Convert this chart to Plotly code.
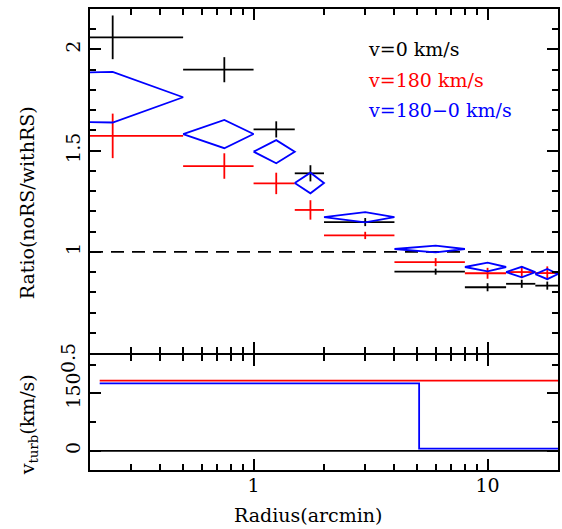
import math
import plotly.graph_objects as go

# ---------------- data ----------------
r_center = [0.25, 0.75, 1.25, 1.75, 3.0, 6.0, 10.0, 14.0, 18.0]
r_lo = [0.0, 0.5, 1.0, 1.5, 2.0, 4.0, 8.0, 12.0, 16.0]
r_hi = [0.5, 1.0, 1.5, 2.0, 4.0, 8.0, 12.0, 16.0, 20.0]

ratio_v0 = [2.06, 1.90, 1.605, 1.388, 1.147, 0.902, 0.825, 0.842, 0.833]
err_v0 = [0.108, 0.062, 0.04, 0.04, 0.02, 0.015, 0.02, 0.02, 0.02]

ratio_v180 = [1.573, 1.424, 1.338, 1.207, 1.081, 0.949, 0.894, 0.900, 0.895]
err_v180 = [0.11, 0.063, 0.053, 0.048, 0.018, 0.02, 0.027, 0.03, 0.033]

ratio_diff = [1.764, 1.582, 1.495, 1.340, 1.171, 1.014, 0.925, 0.900, 0.890]
err_diff = [0.125, 0.07, 0.057, 0.051, 0.025, 0.017, 0.022, 0.026, 0.025]

model_r = [0.22, 5.1, 20.0]
vturb_v0 = [0, 0, 0]
vturb_v180 = [183, 183, 183]
vturb_v180_0 = [176, 6, 6]

legend_labels = ["v=0 km/s", "v=180 km/s", "v=180\u22120 km/s"]
x_major = [1, 10]
x_minor = [0.2, 0.3, 0.4, 0.5, 0.6, 0.7, 0.8, 0.9, 2, 3, 4, 5, 6, 7, 8, 9, 20]
y_major = [0.5, 1, 1.5, 2]
y_minor = [0.6, 0.7, 0.8, 0.9, 1.1, 1.2, 1.3, 1.4, 1.6, 1.7, 1.8, 1.9, 2.1]
v_major = [0, 150]
v_minor = [75, 225]

FONT = "DejaVu Serif"
FS = 19
LOG_ZERO = 1e-6  # stand-in for r=0 on a log axis


def crosses(xc, lo, hi, y, e):
    xs, ys = [], []
    for c, l, h, v, d in zip(xc, lo, hi, y, e):
        xs += [max(l, LOG_ZERO), h, None, c, c, None]
        ys += [v, v, None, v - d, v + d, None]
    return xs, ys


def diamonds(xc, lo, hi, y, e):
    xs, ys = [], []
    for c, l, h, v, d in zip(xc, lo, hi, y, e):
        l = max(l, LOG_ZERO)
        xs += [l, c, h, c, l, None]
        ys += [v, v + d, v, v - d, v, None]
    return xs, ys


fig = go.Figure()

x, y = crosses(r_center, r_lo, r_hi, ratio_v0, err_v0)
fig.add_trace(go.Scatter(x=x, y=y, mode="lines", line=dict(color="black", width=1.8),
                         xaxis="x", yaxis="y", showlegend=False))
x, y = crosses(r_center, r_lo, r_hi, ratio_v180, err_v180)
fig.add_trace(go.Scatter(x=x, y=y, mode="lines", line=dict(color="red", width=1.8),
                         xaxis="x", yaxis="y", showlegend=False))
x, y = diamonds(r_center, r_lo, r_hi, ratio_diff, err_diff)
fig.add_trace(go.Scatter(x=x, y=y, mode="lines", line=dict(color="blue", width=1.8),
                         xaxis="x", yaxis="y", showlegend=False))

# bottom panel
fig.add_trace(go.Scatter(x=model_r, y=vturb_v0, mode="lines", line=dict(color="black", width=1.6, shape="hv"),
                         xaxis="x2", yaxis="y2", showlegend=False))
fig.add_trace(go.Scatter(x=model_r, y=vturb_v180, mode="lines", line=dict(color="red", width=1.8, shape="hv"),
                         xaxis="x2", yaxis="y2", showlegend=False))
fig.add_trace(go.Scatter(x=model_r, y=vturb_v180_0, mode="lines", line=dict(color="blue", width=1.8, shape="hv"),
                         xaxis="x2", yaxis="y2", showlegend=False))

fig.add_shape(type="line", xref="x domain", yref="y", x0=0, x1=1, y0=1, y1=1,
              line=dict(color="black", width=1.8, dash="13px,8px"), layer="below")

H_PLOT = 461
split_bottom = 115 / H_PLOT   # top of the lower panel
split_top = 117 / H_PLOT      # bottom of the upper panel
xr = [math.log10(0.2), math.log10(20)]

tick_style = dict(ticks="inside", ticklen=11, tickwidth=1.6, tickcolor="black")
minor_style = dict(ticks="inside", ticklen=6, tickwidth=1.6, tickcolor="black",
                   tickmode="array", showgrid=False)

common_x = dict(type="log", range=xr, showgrid=False, zeroline=False,
                showline=True, linewidth=2, linecolor="black", mirror="allticks",
                tickmode="array", tickvals=x_major, ticktext=[str(v) for v in x_major],
                minor=dict(minor_style, tickvals=x_minor), **tick_style)
common_y = dict(showgrid=False, zeroline=False, showline=True, linewidth=2,
                linecolor="black", mirror="allticks", tickangle=-90, **tick_style)

fig.update_layout(
    width=562, height=529,
    margin=dict(l=90, r=2, t=9, b=59),
    plot_bgcolor="white", paper_bgcolor="white",
    font=dict(family=FONT, size=FS, color="black"),
    xaxis=dict(common_x, anchor="y", domain=[0, 1], showticklabels=False),
    yaxis=dict(common_y, anchor="x", domain=[split_top, 1], range=[0.5, 2.2],
               tickmode="array", tickvals=y_major,
               ticktext=["" if v == 0.5 else f"{v:g}" for v in y_major],
               minor=dict(minor_style, tickvals=y_minor)),
    xaxis2=dict(common_x, anchor="y2", domain=[0, 1], showticklabels=True, ticklabelstandoff=-3),
    yaxis2=dict(common_y, anchor="x2", domain=[0, split_bottom], range=[-50, 250],
                tickmode="array", tickvals=v_major, ticktext=[str(v) for v in v_major],
                minor=dict(minor_style, tickvals=v_minor)),
)

# "0.5" label sits on the panel boundary
fig.add_annotation(x=(68 - 90) / 470, y=(470 - 358) / H_PLOT, xref="paper", yref="paper",
                   text="0.5", showarrow=False, textangle=-90,
                   xanchor="center", yanchor="middle")

# legend texts
for txt, col, ypx in zip(legend_labels, ["black", "red", "blue"], [49, 80, 110]):
    fig.add_annotation(x=(367 - 90) / 470, y=(470 - ypx) / H_PLOT, xref="paper", yref="paper",
                       text=txt, showarrow=False, xanchor="left", yanchor="middle",
                       font=dict(color=col, size=FS, family=FONT))

# axis titles
fig.add_annotation(x=(27 - 90) / 470, y=(470 - 203) / H_PLOT, xref="paper", yref="paper",
                   text="Ratio(noRS/withRS)", showarrow=False, textangle=-90,
                   xanchor="center", yanchor="middle")
fig.add_annotation(x=(28 - 90) / 470, y=(470 - 425) / H_PLOT, xref="paper", yref="paper",
                   text="v<sub>turb</sub>(km/s)", showarrow=False, textangle=-90,
                   xanchor="center", yanchor="middle")
fig.add_annotation(x=(309 - 90) / 470, y=(470 - 515) / H_PLOT, xref="paper", yref="paper",
                   text="Radius(arcmin)", showarrow=False,
                   xanchor="center", yanchor="middle")

fig.write_html("out.html")
